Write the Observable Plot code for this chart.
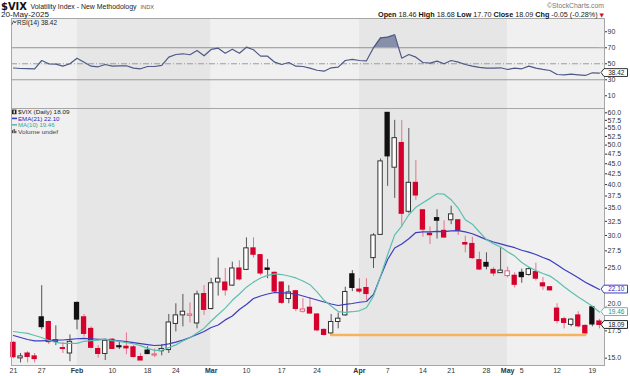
<!DOCTYPE html>
<html>
<head>
<meta charset="utf-8">
<title>$VIX Volatility Index</title>
<script src="https://cdn.jsdelivr.net/npm/d3@7"></script>
<script src="https://cdn.jsdelivr.net/npm/@observablehq/plot@0.6"></script>
<style>
  html, body { margin: 0; padding: 0; background: #ffffff; }
  #chart { position: relative; width: 630px; height: 376px; overflow: hidden; background: #ffffff; }
  #chart svg { position: absolute; left: 0; max-width: none; }
</style>
</head>
<body>
<div id="chart"></div>
<script>
// ===== Data =====
const dates = [
  "2025-01-21","2025-01-22","2025-01-23","2025-01-24","2025-01-27","2025-01-28","2025-01-29","2025-01-30","2025-01-31",
  "2025-02-03","2025-02-04","2025-02-05","2025-02-06","2025-02-07","2025-02-10","2025-02-11","2025-02-12","2025-02-13","2025-02-14",
  "2025-02-18","2025-02-19","2025-02-20","2025-02-21","2025-02-24","2025-02-25","2025-02-26","2025-02-27","2025-02-28",
  "2025-03-03","2025-03-04","2025-03-05","2025-03-06","2025-03-07","2025-03-10","2025-03-11","2025-03-12","2025-03-13","2025-03-14",
  "2025-03-17","2025-03-18","2025-03-19","2025-03-20","2025-03-21","2025-03-24","2025-03-25","2025-03-26","2025-03-27","2025-03-28","2025-03-31",
  "2025-04-01","2025-04-02","2025-04-03","2025-04-04","2025-04-07","2025-04-08","2025-04-09","2025-04-10","2025-04-11",
  "2025-04-14","2025-04-15","2025-04-16","2025-04-17","2025-04-21","2025-04-22","2025-04-23","2025-04-24","2025-04-25",
  "2025-04-28","2025-04-29","2025-04-30","2025-05-01","2025-05-02","2025-05-05","2025-05-06","2025-05-07","2025-05-08","2025-05-09",
  "2025-05-12","2025-05-13","2025-05-14","2025-05-15","2025-05-16","2025-05-19","2025-05-20"
];
const open = [
  16.36,14.98,15.4,15.15,18.9,18.4,16.45,15.88,15.4,20.5,
  18.9,17.7,15.8,15.36,16.65,16.05,16.0,15.95,15.1,15.66,
  15.22,15.6,15.7,18.2,19.1,19.05,18.25,21.55,19.8,23.0,
  23.0,22.6,24.9,24.7,27.9,26.85,24.9,24.3,23.0,20.95,
  21.9,19.5,19.95,19.2,17.6,17.25,18.4,19.1,24.1,22.1,
  22.3,26.4,30.1,60.0,44.0,50.6,34.3,40.4,34.6,30.3,
  33.1,30.8,32.7,32.7,28.75,28.6,26.1,25.7,24.7,24.25,
  23.85,23.9,24.3,24.0,24.4,22.9,22.4,19.85,18.7,18.1,
  19.1,18.0,20.0,18.46
];
const high = [
  16.45,15.4,15.55,15.4,22.6,18.5,18.0,16.4,17.1,20.6,
  19.2,17.9,16.1,16.7,16.75,16.4,17.3,16.1,15.4,16.0,
  15.8,16.2,19.2,20.4,21.5,20.5,21.9,22.6,23.55,26.4,
  24.9,25.8,26.0,29.6,29.6,26.9,26.2,24.4,23.1,22.6,
  22.0,21.0,21.1,19.3,17.7,19.2,19.35,22.4,24.6,23.5,
  23.5,30.3,46.2,60.1,57.5,57.4,54.9,45.8,34.7,31.5,
  34.7,32.6,35.4,32.8,29.9,29.7,27.3,27.2,25.0,28.0,
  25.1,24.3,24.8,25.0,25.65,23.65,22.5,20.4,18.9,18.75,
  19.5,18.1,20.1,18.68
];
const low = [
  14.95,14.6,14.6,14.6,17.6,16.2,16.1,15.4,14.7,17.6,
  16.9,15.8,15.0,14.8,15.75,15.75,15.3,15.0,14.8,15.3,
  15.05,15.2,15.4,17.4,17.9,18.3,17.7,19.1,19.7,21.3,
  21.3,22.5,23.2,24.6,26.4,23.9,23.5,21.6,20.3,20.4,
  19.5,19.35,19.2,17.4,17.0,17.0,17.7,19.0,21.85,21.6,
  20.8,24.9,30.0,39.6,37.0,31.6,34.0,36.6,29.7,28.5,
  29.4,29.5,31.9,30.0,27.2,26.2,24.6,24.7,23.8,24.2,
  23.6,22.3,22.9,23.85,23.2,22.0,21.9,18.2,17.7,17.9,
  17.8,17.1,17.9,17.70
];
const close = [
  15.08,15.15,15.1,14.92,17.87,16.42,16.6,15.8,16.45,18.65,
  17.2,15.9,15.36,16.55,15.8,15.95,15.85,15.1,14.8,15.35,
  15.32,15.8,18.35,19.1,19.5,19.2,21.5,19.7,22.9,23.5,
  22.0,24.9,23.4,27.9,26.9,24.2,24.7,21.85,20.5,21.75,
  19.8,19.75,19.3,17.55,17.1,18.4,18.75,21.8,22.3,21.85,
  21.55,30.0,45.6,46.9,52.0,33.9,40.4,37.6,31.0,30.05,
  32.6,29.65,33.8,30.8,28.5,26.4,24.75,25.15,24.2,24.6,
  24.5,22.7,23.7,24.8,23.5,22.5,22.0,18.5,18.3,18.65,
  17.95,17.25,18.14,18.09
];
const ema21 = [
  17.05,16.86,16.67,16.54,16.54,16.58,16.61,16.62,16.67,16.74,
  16.77,16.74,16.69,16.67,16.62,16.55,16.47,16.37,16.28,16.19,
  16.11,16.15,16.26,16.42,16.62,16.86,17.15,17.44,17.84,18.09,
  18.62,19.03,19.75,20.32,21.01,21.31,21.55,21.74,21.7,21.66,
  21.55,21.31,21.07,20.84,20.6,20.37,20.2,20.32,20.43,20.57,
  20.66,21.5,23.8,26.2,27.95,28.6,29.45,30.5,30.62,30.62,
  30.69,30.66,30.8,30.85,30.62,30.3,29.8,29.3,28.92,28.6,
  28.3,28.0,27.6,27.3,26.95,26.5,26.1,25.42,24.76,24.2,
  23.63,23.04,22.57,22.10
];
const ma10 = [
  17.44,17.34,17.25,17.05,16.86,16.58,16.39,16.30,16.30,16.3,
  16.5,16.57,16.6,16.7,16.56,16.5,16.38,16.27,16.1,15.85,
  15.67,15.68,15.92,16.17,16.52,16.83,17.3,17.77,18.5,19.2,
  19.9,20.8,21.55,22.4,23.05,23.6,23.95,24.16,24.06,23.86,
  23.6,23.2,22.72,21.82,20.8,20.15,19.52,19.43,19.5,19.6,
  19.94,21.3,23.85,26.9,30.1,31.65,33.73,35.18,36.1,37.0,
  37.98,37.88,36.7,35.0,32.8,31.98,30.6,29.3,28.65,28.1,
  27.35,26.7,25.75,25.1,24.6,24.2,23.85,23.2,22.45,21.8,
  21.2,20.65,20.1,19.46
];
const rsi14 = [
  44.75,44.1,43.9,43.75,54.1,50,49.5,47,50,57,
  52,47,46.25,49.1,47,47.5,47.5,44.5,43.75,46.6,
  46.6,47.9,58.25,61.6,62.5,61.25,66.6,60,67.9,69.5,
  63.25,68.25,63.25,70.75,67.5,59.5,59.5,52,49.1,51.6,
  47,46.6,44.5,41.9,40.75,45,45.75,54.1,55.4,54.1,
  53.75,70,82.5,83.25,86.25,57,61.6,58.25,51.6,50.75,
  53.25,50,54.1,52,49.1,47,45.4,44.5,44.5,45,
  42.9,44.5,43.75,47,44.5,42.9,41.6,36.6,36.25,37,
  36.25,35.4,38.75,38.42
];
const tickDates = ["2025-01-21","2025-01-27","2025-02-03","2025-02-10","2025-02-18","2025-02-24","2025-03-03","2025-03-10",
  "2025-03-17","2025-03-24","2025-04-01","2025-04-07","2025-04-14","2025-04-21","2025-04-28","2025-05-01","2025-05-05","2025-05-12","2025-05-19"];
const tickLabels = ["21","27","Feb","10","18","24","Mar","10","17","24","Apr","7","14","21","28","May","5","12","19"];
const monthNames = ["Feb","Mar","Apr","May"];
const monthStarts = ["2025-01-21","2025-02-03","2025-03-03","2025-04-01","2025-05-01"];
const priceTicks = [15,17.5,20,22.5,25,27.5,30,32.5,35,37.5,40,42.5,45,47.5,50,52.5,55,57.5,60];
const rsiTicks = [10,30,50,70,90];
const rsiBands = [70,30];
const rsiMid = [50];
const supportFrom = "2025-03-26";
const supportTo = "2025-05-16";
const supportLevel = 17.1;
const headerLabels = ["Open","High","Low","Close","Chg"];
const headerValues = ["18.46","18.68","17.70","18.09","-0.05 (-0.28%)"];
const titleSymbol = "$VIX";
const titleName = "Volatility Index - New Methodology";
const titleExchange = "INDX";
const titleDate = "20-May-2025";

// ===== Styling =====
const FONT = '"Liberation Sans", Arial, Helvetica, sans-serif';
const W = 630;
const X_DOMAIN = [-0.28, 83.72];
const LIGHT = "#f0f0f0", DARK = "#e6e6e6", FRAME = "#a6a6a6";
const RED = "#d6002d", RED_LIGHT = "#e2607c", WICK_RED = "#e4748c", WICK_DARK = "#555555", BLACK = "#111111";
const BLUE = "#3c3cc0", TEAL = "#5cbfae", ORANGE = "#f6b35e";
const RSI_LINE = "#4e5a86", RSI_FILL = "#7c85a2";

const idxOf = new Map(dates.map((d, i) => [d, i]));
const last = dates.length - 1;
const rows = dates.map((date, i) => ({
  i, date, open: open[i], high: high[i], low: low[i], close: close[i],
  prev: i > 0 ? close[i - 1] : open[i]
}));
const up = d => d.close >= d.prev;
const hollow = d => d.close > d.open;

const monthIdx = monthStarts.map(d => idxOf.get(d));
const monthBands = monthIdx.map((s, k) => ({
  x1: k === 0 ? X_DOMAIN[0] : s,
  x2: k + 1 < monthIdx.length ? monthIdx[k + 1] : X_DOMAIN[1],
  dark: k % 2 === 1
}));
const bandMarks = () => [
  Plot.rect(monthBands.filter(b => !b.dark), {x1: "x1", x2: "x2", fill: LIGHT}),
  Plot.rect(monthBands.filter(b => b.dark), {x1: "x1", x2: "x2", fill: DARK})
];
const tickIdx = tickDates.map(d => idxOf.get(d));
const tickText = new Map(tickIdx.map((i, k) => [i, tickLabels[k]]));
const emaPts = ema21.map((v, i) => ({i, v}));
const maPts = ma10.map((v, i) => ({i, v}));
const rsiPts = rsi14.map((v, i) => ({i, v}));
const supportPts = [supportFrom, supportTo].map(d => ({i: idxOf.get(d), v: supportLevel}));
// price labels hidden under the EMA value box (as in the reference)
const hiddenUnderBox = v => Math.abs(Math.log(v / ema21[last])) < 0.02;
// price label shown just above the MA value box (as in the reference)
const nudgedUp = v => Math.abs(Math.log(v / ma10[last])) < 0.04;

const baseStyle = {fontFamily: FONT, fontSize: "7px", color: "#333", background: "transparent", overflow: "visible"};
const FW = 0.375, HW = 0.31;

// ===== RSI panel =====
const rsiPlot = Plot.plot({
  width: W, height: 90, marginTop: 0, marginBottom: 0, marginLeft: 11, marginRight: 26,
  style: baseStyle,
  x: {domain: X_DOMAIN, axis: null},
  y: {domain: [-5.9, 106.6], axis: "right", ticks: rsiTicks, tickSize: 2, tickPadding: 1, label: null},
  marks: [
    ...bandMarks(),
    Plot.ruleY(rsiBands, {stroke: "#9c9c9c", strokeWidth: 1}),
    Plot.ruleY(rsiMid, {stroke: "#9c9c9c", strokeWidth: 1, strokeDasharray: "6,2,1,2"}),
    Plot.areaY(rsiPts, {x: "i", y1: () => rsiBands[0], y2: "v", fill: RSI_FILL, fillOpacity: 0.9}),
    Plot.line(rsiPts, {x: "i", y: "v", stroke: RSI_LINE, strokeWidth: 1.2}),
    Plot.frame({stroke: FRAME})
  ]
});

// ===== Price panel =====
const mainPlot = Plot.plot({
  width: W, height: 268, marginTop: 0, marginBottom: 11, marginLeft: 11, marginRight: 26,
  style: baseStyle,
  x: {domain: X_DOMAIN, ticks: tickIdx, tickFormat: i => tickText.get(i), tickSize: 0, tickPadding: 3, label: null},
  y: {type: "log", domain: [14.39, 61.48], axis: "right", ticks: priceTicks,
      tickFormat: v => hiddenUnderBox(v) ? "" : v.toFixed(1), tickSize: 2, tickPadding: 1, label: null},
  marks: [
    ...bandMarks(),
    Plot.ruleX(rows.filter(up), {x: "i", y1: "low", y2: "high", stroke: WICK_DARK, strokeWidth: 1}),
    Plot.ruleX(rows.filter(d => !up(d)), {x: "i", y1: "low", y2: "high", stroke: WICK_RED, strokeWidth: 1}),
    Plot.rect(rows.filter(d => !hollow(d) && up(d)), {x1: d => d.i - FW, x2: d => d.i + FW, y1: "open", y2: "close", fill: BLACK, insetTop: -0.5, insetBottom: -0.5}),
    Plot.rect(rows.filter(d => !hollow(d) && !up(d)), {x1: d => d.i - FW, x2: d => d.i + FW, y1: "open", y2: "close", fill: RED, insetTop: -0.5, insetBottom: -0.5}),
    Plot.rect(rows.filter(d => hollow(d) && up(d)), {x1: d => d.i - HW, x2: d => d.i + HW, y1: "open", y2: "close", fill: "#ffffff", stroke: "#333333", strokeWidth: 1}),
    Plot.rect(rows.filter(d => hollow(d) && !up(d)), {x1: d => d.i - HW, x2: d => d.i + HW, y1: "open", y2: "close", fill: "#ffffff", stroke: RED_LIGHT, strokeWidth: 1}),
    Plot.line(emaPts, {x: "i", y: "v", stroke: BLUE, strokeWidth: 1.2}),
    Plot.line(maPts, {x: "i", y: "v", stroke: TEAL, strokeWidth: 1.2}),
    Plot.line(supportPts, {x: "i", y: "v", stroke: ORANGE, strokeWidth: 2.4}),
    Plot.frame({stroke: FRAME})
  ]
});

const chart = document.getElementById("chart");
rsiPlot.style.top = "18px";
mainPlot.style.top = "108px";
chart.appendChild(rsiPlot);
chart.appendChild(mainPlot);

// bold month labels
d3.select(mainPlot).selectAll("text").filter(function () { return monthNames.includes(this.textContent); })
  .attr("font-weight", "bold");
// lift the price label that sits right above the MA box
d3.select(mainPlot).selectAll("text").filter(function () {
  const v = parseFloat(this.textContent);
  return /^\d+\.\d$/.test(this.textContent) && nudgedUp(v);
}).attr("transform", function () {
  const t = this.getAttribute("transform") || "";
  return t + " translate(0,-3.5)";
});

// clip the RSI fill to the zone above 70
{
  const y70 = rsiPlot.scale("y").apply(rsiBands[0]);
  const svgR = d3.select(rsiPlot);
  svgR.insert("defs", ":first-child").append("clipPath").attr("id", "rsiAbove70")
    .append("rect").attr("x", 0).attr("y", -5).attr("width", W).attr("height", y70 + 5);
  svgR.selectAll('g[aria-label="area"]').attr("clip-path", "url(#rsiAbove70)");
}

// ===== Overlay: titles, legends, value boxes =====
const ov = d3.select(chart).append("svg")
  .attr("width", W).attr("height", 376)
  .style("top", "0px").style("pointer-events", "none")
  .attr("font-family", FONT);

function txt(x, y, s, o = {}) {
  const t = ov.append("text").attr("x", x).attr("y", y).attr("font-size", o.size || 7)
    .attr("fill", o.fill || "#222").text(s);
  if (o.weight) t.attr("font-weight", o.weight);
  if (o.anchor) t.attr("text-anchor", o.anchor);
  if (o.family) t.attr("font-family", o.family);
  if (o.len) t.attr("textLength", o.len).attr("lengthAdjust", "spacingAndGlyphs");
  return t;
}

txt(1, 9.6, titleSymbol, {size: 10, weight: "bold", family: '"DejaVu Sans", Verdana, sans-serif', fill: "#111", len: 26});
txt(30.5, 9.3, titleName, {size: 7, len: 106, fill: "#222"});
txt(140.5, 9.3, titleExchange, {size: 5.5, fill: "#555", len: 13.5});
txt(1, 16.8, titleDate, {size: 7, len: 48, fill: "#222"});
txt(604, 8.4, "\u00A9StockCharts.com", {size: 6.5, anchor: "end", fill: "#777", len: 57});

{
  const h = ov.append("text").attr("x", 604).attr("y", 16.8).attr("text-anchor", "end")
    .attr("font-size", 7).attr("fill", "#222")
    .attr("textLength", 226).attr("lengthAdjust", "spacingAndGlyphs");
  headerLabels.forEach((lab, k) => {
    h.append("tspan").attr("font-weight", "bold").attr("fill", "#111").text((k ? " " : "") + lab);
    h.append("tspan").text(" " + headerValues[k] + " ");
  });
  h.append("tspan").attr("fill", "#cc1133").attr("font-family", '"DejaVu Sans", sans-serif').attr("font-size", 5.5).text("\u25BC");
}

// RSI legend
ov.append("path").attr("d", "M12,24.5 L13.6,20.8 L15,23 L16.4,20.8").attr("fill", "none").attr("stroke", "#333").attr("stroke-width", 0.8);
txt(17, 24.6, "RSI(14) " + rsi14[last].toFixed(2), {size: 6.3, fill: "#222", len: 40});

// Price legend
ov.append("rect").attr("x", 12).attr("y", 109.6).attr("width", 4.5).attr("height", 4.6).attr("fill", "#222");
ov.append("rect").attr("x", 13.6).attr("y", 110.4).attr("width", 1.2).attr("height", 3).attr("fill", "#fff");
txt(18, 114.3, "$VIX (Daily) " + close[last].toFixed(2), {size: 6.2, fill: "#222", len: 51.5});
ov.append("line").attr("x1", 12).attr("x2", 17).attr("y1", 118.4).attr("y2", 118.4).attr("stroke", BLUE).attr("stroke-width", 1.6);
txt(18, 120.7, "EMA(21) " + ema21[last].toFixed(2), {size: 6.2, fill: "#2b2bb5", len: 41.5});
ov.append("line").attr("x1", 12).attr("x2", 17).attr("y1", 124.8).attr("y2", 124.8).attr("stroke", TEAL).attr("stroke-width", 1.6);
txt(18, 127.1, "MA(10) " + ma10[last].toFixed(2), {size: 6.2, fill: "#35a596", len: 36.5});
[[12, 130.2, 3], [13.6, 129, 4.2], [15.2, 130.8, 2.4]].forEach(([x, y, hgt]) =>
  ov.append("rect").attr("x", x).attr("y", y).attr("width", 1.2).attr("height", hgt).attr("fill", "#444"));
txt(18, 133.5, "Volume undef", {size: 6.2, fill: "#444", len: 40});

// value boxes on the right axis
function valueBox(y, label, color, textColor) {
  const x = 604, w = 23.5, hh = 3.9;
  ov.append("path")
    .attr("d", `M${x - 3},${y} L${x},${y - hh} L${x + w},${y - hh} L${x + w},${y + hh} L${x},${y + hh} Z`)
    .attr("fill", "#ffffff").attr("stroke", color).attr("stroke-width", 1);
  ov.append("text").attr("x", x + w / 2 + 0.5).attr("y", y).attr("dy", "0.36em")
    .attr("text-anchor", "middle").attr("font-size", 6.4).attr("fill", textColor).text(label);
}
const yR = rsiPlot.scale("y"), yP = mainPlot.scale("y");
valueBox(18 + yR.apply(rsi14[last]), rsi14[last].toFixed(2), "#333", "#222");
valueBox(108 + yP.apply(ema21[last]), ema21[last].toFixed(2), BLUE, "#2b2bb5");
valueBox(108 + yP.apply(ma10[last]), ma10[last].toFixed(2), TEAL, "#2f8f84");
valueBox(108 + yP.apply(close[last]), close[last].toFixed(2), "#222", "#111");
</script>
</body>
</html>
